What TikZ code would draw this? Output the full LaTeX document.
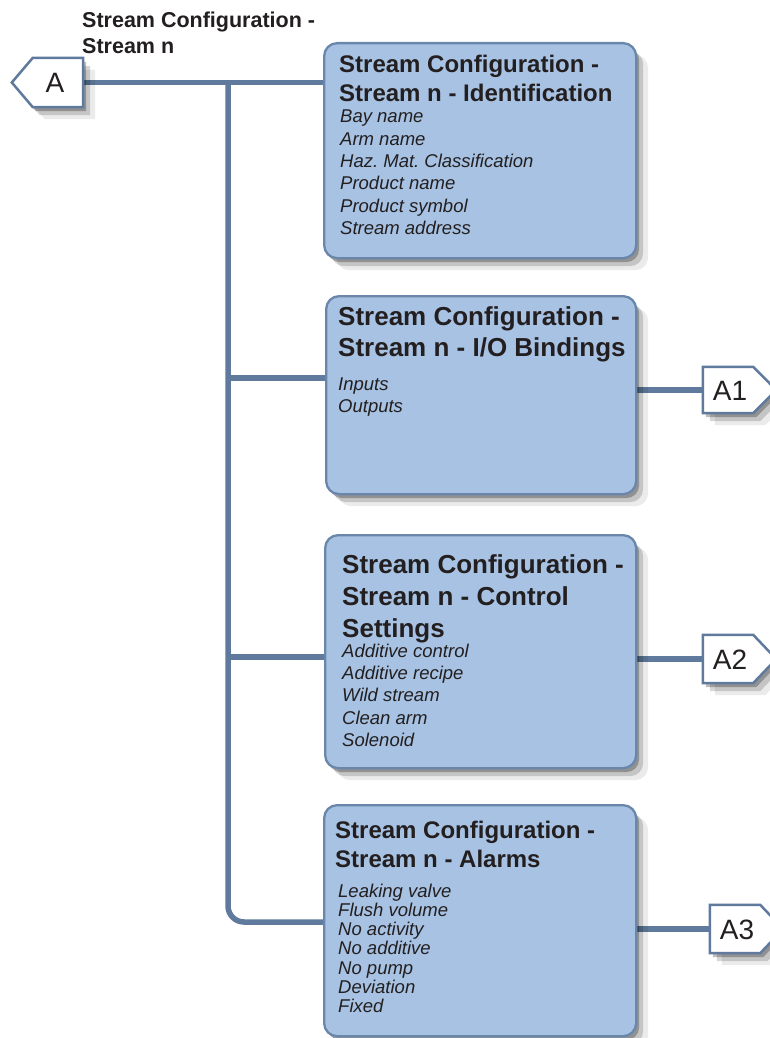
\documentclass[tikz,border=0pt]{standalone}
\usepackage{fontspec}
\setmainfont{Liberation Sans}
\usetikzlibrary{shadows,calc}
\definecolor{boxfill}{HTML}{A7C2E2}
\definecolor{boxline}{HTML}{6A87AB}
\definecolor{conncol}{HTML}{5F7A9C}
\definecolor{txt}{HTML}{231F20}
\frenchspacing
\tikzset{
  softshadow/.style={
    drop shadow={shadow xshift=3pt,shadow yshift=-4pt,opacity=.26,fill=black},
    drop shadow={shadow xshift=7pt,shadow yshift=-8pt,opacity=.16,fill=black},
    drop shadow={shadow xshift=12pt,shadow yshift=-12pt,opacity=.08,fill=black}},
  boxnode/.style={draw=boxline,line width=2.3pt,fill=boxfill,rounded corners=13pt,
    anchor=north west,inner sep=0pt,softshadow},
  conn/.style={draw=conncol,line width=5.5pt},
  tagbase/.style={inner sep=0pt,draw=none},
  tagline/.style={draw=conncol,line width=2.5pt,fill=white,line join=miter,softshadow},
  tagtext/.style={inner sep=0pt,text=txt,font=\fontsize{28}{32}\selectfont},
  ttl/.style={anchor=base west,inner sep=0pt,text=txt,font=\bfseries\fontsize{#1}{#1}\selectfont},
  itm/.style={anchor=base west,inner sep=0pt,text=txt,font=\itshape\fontsize{18.5}{22}\selectfont},
}
\begin{document}
\begin{tikzpicture}[x=1pt,y=-1pt]
\useasboundingbox (0,0) rectangle (769,1038);
\fill[white] (0,0) rectangle (769,1038);

% tag anchors
\node[tagbase,minimum width=50pt,minimum height=49pt] (A) at (58,82.5) {};
\node[tagbase,minimum width=50pt,minimum height=46pt] (A1) at (728,390) {};
\node[tagbase,minimum width=50pt,minimum height=48pt] (A2) at (728,659) {};
\node[tagbase,minimum width=50pt,minimum height=48pt] (A3) at (735,929) {};

\coordinate (trunktop) at (228,82);
\coordinate (trunkbot) at (228,922);
\coordinate (j2) at (228,378);
\coordinate (j3) at (228,657);

% connectors
\path (323,42) coordinate (b1nw) (325,295) coordinate (b2nw) (324,534) coordinate (b3nw) (323,804) coordinate (b4nw);
\draw[conn] (A.east) -- (A.east -| b1nw);
\draw[conn,rounded corners=16pt] (trunktop) -- (trunkbot) -- (trunkbot -| b4nw);
\draw[conn] (j2) -- (j2 -| b2nw);
\draw[conn] (j3) -- (j3 -| b3nw);
\draw[conn] (A1.west -| 635,0) -- (A1.west);
\draw[conn] (A2.west -| 635,0) -- (A2.west);
\draw[conn] (A3.west -| 635,0) -- (A3.west);

% boxes
\node[boxnode,minimum width=312pt,minimum height=215pt] (b1) at (b1nw) {};
\node[boxnode,minimum width=310pt,minimum height=198pt] (b2) at (b2nw) {};
\node[boxnode,minimum width=311pt,minimum height=233pt] (b3) at (b3nw) {};
\node[boxnode,minimum width=312pt,minimum height=231pt] (b4) at (b4nw) {};

% tags
\draw[tagline] (A.north east) -- (A.south east) -- (A.south west) -- ($(A.west)+(-21,0)$) -- (A.north west) -- cycle;
\foreach \t in {A1,A2,A3}{
  \draw[tagline] (\t.north west) -- (\t.north east) -- ($(\t.east)+(23,0)$) -- (\t.south east) -- (\t.south west) -- cycle;
}
\node[tagtext] (Atx) at (55,83) {A};
\node[tagtext] (A1tx) at (730,391) {A1};
\node[tagtext] (A2tx) at (730,660) {A2};
\node[tagtext] (A3tx) at (737,930) {A3};

% top title
\node[ttl=21.5] (top1) at (82,28) {Stream Configuration -};
\node[ttl=21.5] (top2) at (82,54) {Stream n};

% box 1
\node[ttl=24] (b1t1) at (339,73) {Stream Configuration -};
\node[ttl=24] (b1t2) at (339,102) {Stream n - Identification};
\foreach \s [count=\i] in {Bay name,Arm name,Haz. Mat. Classification,Product name,Product symbol,Stream address}
  \node[itm] (b1i\i) at (340,{123+22.3*(\i-1)}) {\s};

% box 2
\node[ttl=26] (b2t1) at (338,325) {Stream Configuration -};
\node[ttl=26] (b2t2) at (338,356) {Stream n - I/O Bindings};
\foreach \s [count=\i] in {Inputs,Outputs}
  \node[itm] (b2i\i) at (338,{390+22.5*(\i-1)}) {\s};

% box 3
\node[ttl=26] (b3t1) at (342,573) {Stream Configuration -};
\node[ttl=26] (b3t2) at (342,605) {Stream n - Control};
\node[ttl=26] (b3t3) at (342,637) {Settings};
\foreach \s [count=\i] in {Additive control,Additive recipe,Wild stream,Clean arm,Solenoid}
  \node[itm] (b3i\i) at (342,{657+22.4*(\i-1)}) {\s};

% box 4
\node[ttl=24] (b4t1) at (335,838) {Stream Configuration -};
\node[ttl=24] (b4t2) at (335,867) {Stream n - Alarms};
\foreach \s [count=\i] in {Leaking valve,Flush volume,No activity,No additive,No pump,Deviation,Fixed}
  \node[itm] (b4i\i) at (338,{897+19.3*(\i-1)}) {\s};
\end{tikzpicture}
\end{document}
